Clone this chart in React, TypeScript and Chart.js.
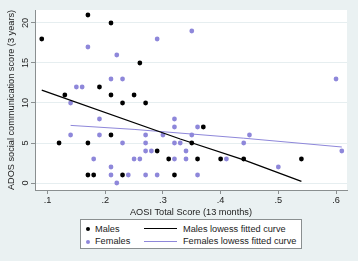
import React, { useEffect, useRef } from "react";
import { Chart, registerables } from "chart.js";

Chart.register(...registerables);

// ---- data ----
const malesX = [0.09, 0.17, 0.21, 0.26, 0.19, 0.13, 0.21, 0.25, 0.23, 0.27, 0.12, 0.17, 0.21, 0.17, 0.18, 0.23, 0.37, 0.35, 0.29, 0.31, 0.36, 0.40, 0.44, 0.54, 0.32];
const malesY = [18, 21, 20, 15, 12, 11, 11, 11, 10, 10, 5, 5, 6, 1, 1, 1, 7, 5, 4, 3, 3, 3, 3, 3, 1];

const femalesX = [0.17, 0.22, 0.29, 0.35, 0.60, 0.15, 0.16, 0.21, 0.23, 0.14, 0.19, 0.14, 0.19, 0.23, 0.18, 0.21, 0.21, 0.22, 0.24, 0.25, 0.26, 0.27, 0.27, 0.27, 0.28, 0.27, 0.29, 0.30, 0.32, 0.32, 0.32, 0.32, 0.33, 0.36, 0.35, 0.45, 0.34, 0.44, 0.34, 0.41, 0.50, 0.36, 0.61];
const femalesY = [17, 16, 18, 19, 13, 12, 12, 13, 13, 10, 8, 6, 6, 5, 3, 2, 1, 0, 1, 3, 3, 6, 5, 4, 4, 1, 1, 6, 8, 7, 5, 3, 5, 7, 6, 6, 4, 5, 3, 3, 2, 1, 4];

const malesFitX = [0.09, 0.33, 0.44, 0.54];
const malesFitY = [11.6, 5.5, 2.9, 0.2];
const femalesFitX = [0.14, 0.25, 0.44, 0.61];
const femalesFitY = [7.2, 6.7, 5.6, 4.5];

const xTickValues = [0.1, 0.2, 0.3, 0.4, 0.5, 0.6];
const xTickLabels = [".1", ".2", ".3", ".4", ".5", ".6"];
const yTickValues = [0, 5, 10, 15, 20];
const yTickLabels = ["0", "5", "10", "15", "20"];

const xTitle = "AOSI Total Score (13 months)";
const yTitle = "ADOS social communication score (3 years)";
const legendLabels = ["Males", "Females", "Males lowess fitted curve", "Females lowess fitted curve"];

// ---- styles ----
const FONT = '"Liberation Sans", Arial, sans-serif';
const FS = 9.2;
const TEXT = "#222";
const PURPLE = "#8e87da";
const BG = "#eaf1f2";
const AXIS = "#8a8f90";

const zip = (xs: number[], ys: number[]) => xs.map((x, i) => ({ x, y: ys[i] }));

export default function App() {
  const ref = useRef<HTMLCanvasElement>(null);

  useEffect(() => {
    document.body.style.margin = "0";
    const canvas = ref.current;
    if (!canvas) return;

    const plotBg = {
      id: "plotBg",
      beforeDraw(chart: any) {
        const { ctx, chartArea: a } = chart;
        ctx.save();
        ctx.fillStyle = "#ffffff";
        ctx.fillRect(a.left, a.top, a.right - a.left, a.bottom - a.top);
        ctx.restore();
      },
    };

    const yRotLabels = {
      id: "yRotLabels",
      afterDraw(chart: any) {
        const s = chart.scales.y;
        const ctx = chart.ctx;
        ctx.save();
        ctx.font = `${FS}px ${FONT}`;
        ctx.fillStyle = TEXT;
        ctx.textAlign = "center";
        ctx.textBaseline = "middle";
        const cx = s.right - 10;
        yTickValues.forEach((v, i) => {
          const py = s.getPixelForValue(v);
          ctx.save();
          ctx.translate(cx, py);
          ctx.rotate(-Math.PI / 2);
          ctx.fillText(yTickLabels[i], 0, 0);
          ctx.restore();
        });
        ctx.restore();
      },
    };

    const chart = new Chart(canvas, {
      type: "scatter",
      data: {
        datasets: [
          {
            label: legendLabels[2],
            data: zip(malesFitX, malesFitY),
            showLine: true,
            borderColor: "#000",
            borderWidth: 1.3,
            pointRadius: 0,
            order: 0,
          },
          {
            label: legendLabels[3],
            data: zip(femalesFitX, femalesFitY),
            showLine: true,
            borderColor: PURPLE,
            borderWidth: 1,
            pointRadius: 0,
            order: 1,
          },
          {
            label: legendLabels[0],
            data: zip(malesX, malesY),
            backgroundColor: "#000",
            borderWidth: 0,
            pointRadius: 2.4,
            order: 2,
          },
          {
            label: legendLabels[1],
            data: zip(femalesX, femalesY),
            backgroundColor: PURPLE,
            borderWidth: 0,
            pointRadius: 2.4,
            order: 3,
          },
        ],
      },
      options: {
        animation: false,
        responsive: false,
        devicePixelRatio: 1,
        layout: { padding: { top: 10, right: 11, left: 0, bottom: 0 } },
        plugins: { legend: { display: false }, tooltip: { enabled: false } },
        scales: {
          x: {
            type: "linear",
            min: 0.0783,
            max: 0.619,
            afterFit(scale: any) {
              scale.height = 71;
            },
            afterBuildTicks(scale: any) {
              scale.ticks = xTickValues.map((v) => ({ value: v }));
            },
            ticks: {
              font: { family: FONT, size: FS },
              color: TEXT,
              padding: 1,
              maxRotation: 0,
              minRotation: 0,
              callback: (v: any) => {
                const i = xTickValues.findIndex((t) => Math.abs(t - v) < 1e-6);
                return i >= 0 ? xTickLabels[i] : "";
              },
            },
            grid: {
              drawOnChartArea: false,
              drawTicks: true,
              tickLength: 4,
              tickColor: AXIS,
              tickWidth: 1,
            },
            border: { display: true, color: AXIS, width: 1 },
            title: {
              display: true,
              text: xTitle,
              color: TEXT,
              font: { family: FONT, size: FS },
              padding: { top: 0, bottom: 43.5 },
            },
          },
          y: {
            type: "linear",
            min: -0.875,
            max: 21.625,
            afterFit(scale: any) {
              scale.width = 35;
            },
            afterBuildTicks(scale: any) {
              scale.ticks = yTickValues.map((v) => ({ value: v }));
            },
            ticks: { display: false },
            grid: {
              drawOnChartArea: true,
              color: "#e6eef0",
              lineWidth: 1,
              drawTicks: true,
              tickLength: 4,
              tickColor: AXIS,
            },
            border: { display: true, color: AXIS, width: 1 },
            title: {
              display: true,
              text: yTitle,
              color: TEXT,
              font: { family: FONT, size: FS },
              padding: { top: 5.5, bottom: 0 },
            },
          },
        },
      },
      plugins: [plotBg, yRotLabels],
    } as any);

    return () => chart.destroy();
  }, []);

  const textStyle: React.CSSProperties = {
    position: "absolute",
    fontFamily: FONT,
    fontSize: FS,
    color: TEXT,
    lineHeight: "12px",
    whiteSpace: "nowrap",
  };

  return (
    <div style={{ position: "fixed", left: 0, top: 0, width: 358, height: 261, background: BG }}>
      <canvas ref={ref} width={358} height={261} style={{ position: "absolute", left: 0, top: 0, width: 358, height: 261 }} />
      <div
        style={{
          position: "absolute",
          left: 80,
          top: 219,
          width: 220,
          height: 28,
          background: "#fff",
          border: "1px solid #8a8f90",
        }}
      >
        {/* row 1 */}
        <div style={{ position: "absolute", left: 5, top: 7, width: 4, height: 4, borderRadius: 2, background: "#000" }} />
        <div style={{ ...textStyle, left: 14, top: 2.5 }}>{legendLabels[0]}</div>
        <div style={{ position: "absolute", left: 63, top: 8, width: 33, height: 1.3, background: "#000" }} />
        <div style={{ ...textStyle, left: 102, top: 2.5 }}>{legendLabels[2]}</div>
        {/* row 2 */}
        <div style={{ position: "absolute", left: 5, top: 19.5, width: 4, height: 4, borderRadius: 2, background: PURPLE }} />
        <div style={{ ...textStyle, left: 14, top: 15 }}>{legendLabels[1]}</div>
        <div style={{ position: "absolute", left: 63, top: 21, width: 33, height: 1, background: PURPLE }} />
        <div style={{ ...textStyle, left: 102, top: 15 }}>{legendLabels[3]}</div>
      </div>
    </div>
  );
}
